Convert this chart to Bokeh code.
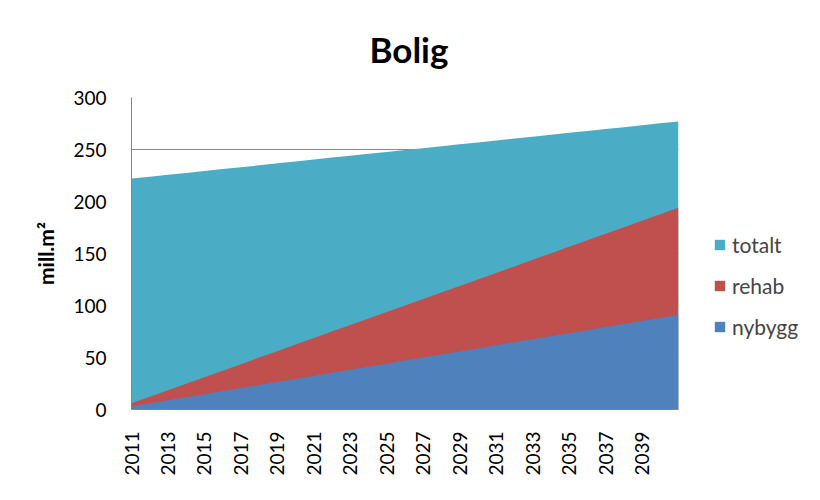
from bokeh.plotting import figure
from bokeh.models import Range1d, FixedTicker, Legend, LegendItem, Title
from bokeh.embed import file_html
from bokeh.resources import INLINE
import math

years = list(range(2011, 2042))
totalt = [222.0, 223.8, 225.7, 227.5, 229.3, 231.2, 233.0, 234.8, 236.7, 238.5, 240.3,
          242.2, 244.0, 245.8, 247.7, 249.5, 251.3, 253.2, 255.0, 256.8, 258.7, 260.5,
          262.3, 264.2, 266.0, 267.8, 269.7, 271.5, 273.3, 275.2, 277.0]
rehab = [6.0, 12.3, 18.5, 24.8, 31.1, 37.3, 43.6, 49.9, 56.1, 62.4, 68.7, 74.9, 81.2,
         87.5, 93.7, 100.0, 106.3, 112.5, 118.8, 125.1, 131.3, 137.6, 143.9, 150.1,
         156.4, 162.7, 168.9, 175.2, 181.5, 187.7, 194.0]
nybygg = [3.0, 5.9, 8.9, 11.8, 14.7, 17.7, 20.6, 23.5, 26.5, 29.4, 32.3, 35.3, 38.2,
          41.1, 44.1, 47.0, 49.9, 52.9, 55.8, 58.7, 61.7, 64.6, 67.5, 70.5, 73.4, 76.3,
          79.3, 82.2, 85.1, 88.1, 91.0]
tick_years = [2011, 2013, 2015, 2017, 2019, 2021, 2023, 2025, 2027, 2029, 2031, 2033, 2035, 2037, 2039]
y_ticks = [0, 50, 100, 150, 200, 250, 300]
series_names = ["totalt", "rehab", "nybygg"]
colors = ["#4BACC6", "#C0504D", "#4F81BD"]

FONT = "Lato"
GRAY = "#868686"

p = figure(output_backend="svg", toolbar_location=None,
           frame_width=547, frame_height=312,
           min_border_left=131, min_border_right=126, min_border_top=97, min_border_bottom=75,
           x_range=Range1d(2011, 2041), y_range=Range1d(0, 300))
p.outline_line_color = None
p.background_fill_color = "white"

title = Title(text="Bolig", align="left", vertical_align="top", text_font=FONT,
              text_font_size="35px", text_font_style="bold", text_color="black",
              offset=238, standoff=52)
p.add_layout(title, "above")

renderers = []
for vals, c in zip([totalt, rehab, nybygg], colors):
    r = p.varea(x=years, y1=0, y2=vals, fill_color=c, fill_alpha=1.0)
    renderers.append(r)

p.xgrid.grid_line_color = None
p.ygrid.grid_line_color = GRAY
p.ygrid.ticker = FixedTicker(ticks=y_ticks)

p.yaxis.ticker = FixedTicker(ticks=y_ticks)
p.xaxis.ticker = FixedTicker(ticks=tick_years)
p.xaxis.major_label_orientation = math.pi / 2
for ax in (p.xaxis, p.yaxis):
    ax.axis_line_color = GRAY
    ax.major_tick_line_color = None
    ax.minor_tick_line_color = None
    ax.major_label_text_font = FONT
    ax.major_label_text_font_size = "19px"
    ax.major_label_text_color = "black"
p.yaxis.major_label_standoff = 19
p.xaxis.major_label_standoff = 16
p.yaxis.axis_label = "mill.m²"
p.yaxis.axis_label_text_font = FONT
p.yaxis.axis_label_text_font_size = "21px"
p.yaxis.axis_label_text_font_style = "bold"
p.yaxis.axis_label_text_color = "black"
p.yaxis.axis_label_standoff = 12

legend = Legend(items=[LegendItem(label=n, renderers=[r]) for n, r in zip(series_names, renderers)],
                location=(35, 70), orientation="vertical",
                glyph_width=13, glyph_height=13, label_standoff=6, spacing=16,
                label_text_font=FONT, label_text_font_size="21px",
                padding=0, margin=0, border_line_color=None, background_fill_alpha=0)
p.add_layout(legend, "right")

open("out.html", "w").write(file_html(p, INLINE))
